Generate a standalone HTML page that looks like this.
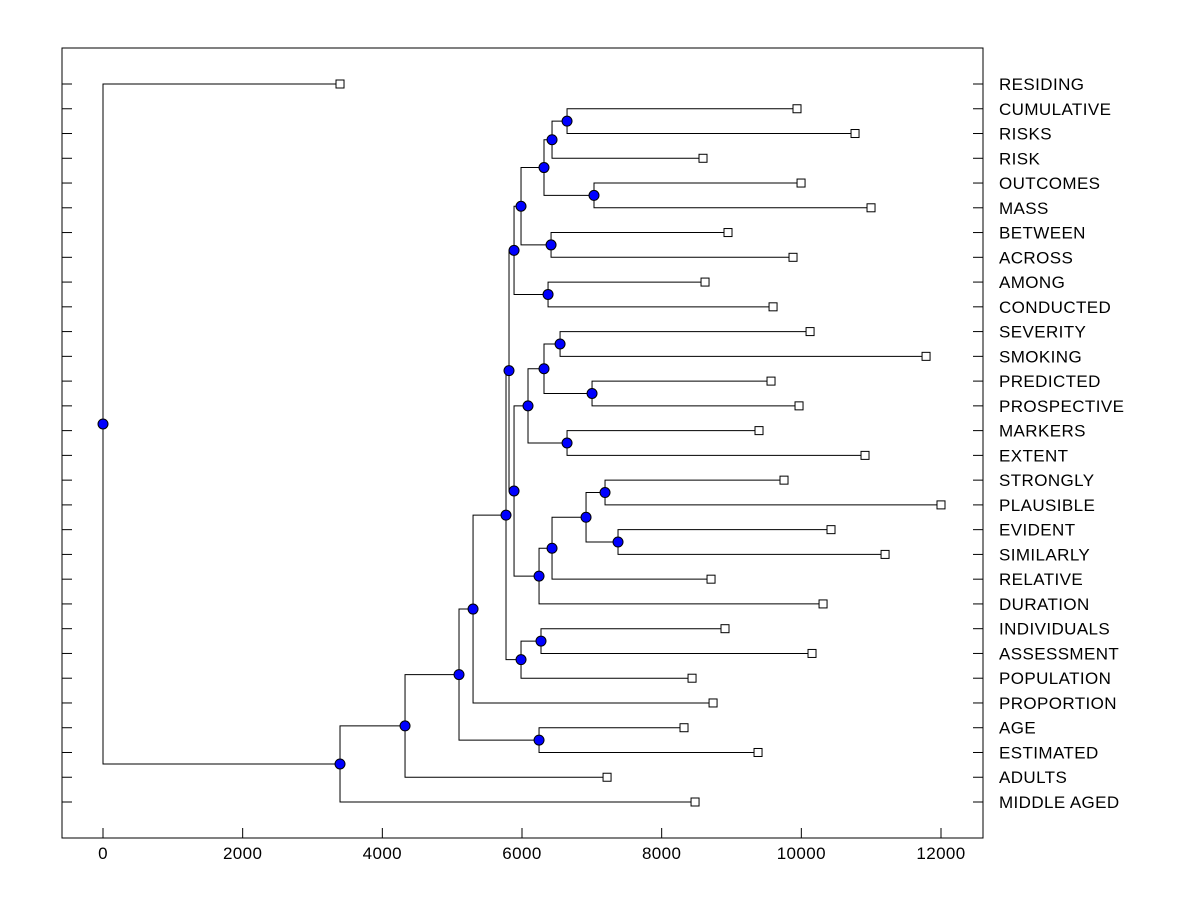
<!DOCTYPE html>
<html><head><meta charset="utf-8"><style>
html,body{margin:0;padding:0;background:#fff;}
svg{display:block;font-family:"Liberation Sans",Arial,sans-serif;}
</style></head><body>
<svg id="chart" width="1200" height="900">
<rect x="62" y="48" width="921" height="790" fill="#fff" stroke="#000" stroke-width="1"/>
<g id="axis"></g><g id="links"></g><g id="marks"></g><g id="labels"></g>
</svg>
<script>
const leafNames=["RESIDING","CUMULATIVE","RISKS","RISK","OUTCOMES","MASS","BETWEEN","ACROSS","AMONG","CONDUCTED","SEVERITY","SMOKING","PREDICTED","PROSPECTIVE","MARKERS","EXTENT","STRONGLY","PLAUSIBLE","EVIDENT","SIMILARLY","RELATIVE","DURATION","INDIVIDUALS","ASSESSMENT","POPULATION","PROPORTION","AGE","ESTIMATED","ADULTS","MIDDLE AGED"];
const leafValues=[3394,9938,10769,8592,9996,10998,8950,9881,8621,9595,10125,11786,9566,9967,9394,10912,9752,12000,10425,11199,8707,10311,8907,10153,8435,8736,8320,9380,7218,8478];
const nodeNames=["n1","n2","n3","n4","n5","n6","n7","n8","n9","n10","n11","n12","n13","n14","n15","n16","n17","n18","n19","n20","n21","n22","n23","n24","n25","n26","n27","n28","root"];
const nodeHeights=[6645,6430,7031,6315,6416,5986,6373,5886,6545,7003,6315,6645,6086,7189,7375,6917,6430,6244,5886,5814,6272,5986,5771,5299,6244,5098,4325,3394,0];
const nodeChildA=["CUMULATIVE","n1","OUTCOMES","n2","BETWEEN","n4","AMONG","n6","SEVERITY","PREDICTED","n9","MARKERS","n11","STRONGLY","EVIDENT","n14","n16","n17","n13","n8","INDIVIDUALS","n21","n20","n23","AGE","n24","n26","n27","RESIDING"];
const nodeChildB=["RISKS","RISK","MASS","n3","ACROSS","n5","CONDUCTED","n7","SMOKING","PROSPECTIVE","n10","EXTENT","n12","PLAUSIBLE","SIMILARLY","n15","RELATIVE","DURATION","n18","n19","ASSESSMENT","POPULATION","n22","PROPORTION","ESTIMATED","n25","ADULTS","MIDDLE AGED","n28"];
const xTicks=[0,2000,4000,6000,8000,10000,12000];

const NS="http://www.w3.org/2000/svg";
const X=v=>103+v*(838/12000);
const Y=i=>84+i*(718/29);
function mk(tag,attrs,parent){const e=document.createElementNS(NS,tag);for(const k in attrs)e.setAttribute(k,attrs[k]);parent.appendChild(e);return e;}
const gA=document.getElementById('axis'),gL=document.getElementById('links'),gM=document.getElementById('marks'),gT=document.getElementById('labels');

const pos={};
leafNames.forEach((n,i)=>{pos[n]={x:X(leafValues[i]),y:Y(i)};});
nodeNames.forEach((n,i)=>{
  const a=pos[nodeChildA[i]],b=pos[nodeChildB[i]];
  pos[n]={x:X(nodeHeights[i]),y:(a.y+b.y)/2};
});
nodeNames.forEach((n,i)=>{
  const p=pos[n],a=pos[nodeChildA[i]],b=pos[nodeChildB[i]];
  const path=mk('path',{d:`M${a.x},${a.y}H${p.x}V${b.y}H${b.x}`,fill:'none',stroke:'#000','stroke-width':1},gL);
  
  
});
leafNames.forEach((n,i)=>{
  const p=pos[n];
  const r=mk('rect',{x:p.x-4,y:p.y-4,width:8,height:8,fill:'#fff',stroke:'#000','stroke-width':1},gM);
  
  
  const t=mk('text',{x:999,y:p.y+6,'font-size':17,'letter-spacing':0.4,fill:'#000'},gT);
  t.textContent=n;
  
  
  const l1=mk('line',{x1:62,x2:72,y1:p.y,y2:p.y,stroke:'#000'},gA);
  
  
  const l2=mk('line',{x1:973,x2:983,y1:p.y,y2:p.y,stroke:'#000'},gA);
  
  
});
nodeNames.forEach(n=>{
  const p=pos[n];
  const c=mk('circle',{cx:p.x,cy:p.y,r:5,fill:'#0000ff',stroke:'#000','stroke-width':1},gM);
  
  
});
xTicks.forEach(v=>{
  const l=mk('line',{x1:X(v),x2:X(v),y1:828,y2:838,stroke:'#000'},gA);
  
  
  const t=mk('text',{x:X(v),y:859,'font-size':17,'letter-spacing':0.4,'text-anchor':'middle',fill:'#000'},gT);
  t.textContent=v;
  
  
});
</script>
</body></html>
